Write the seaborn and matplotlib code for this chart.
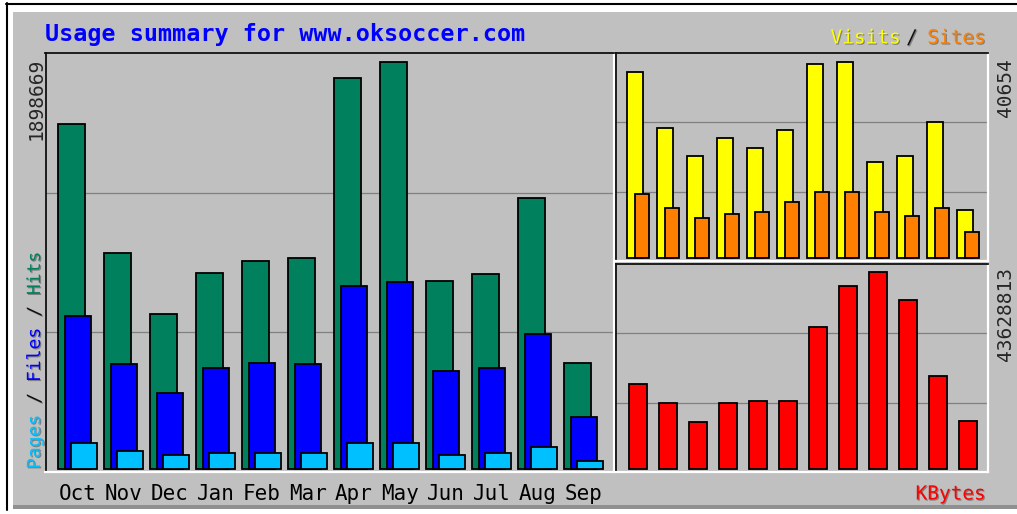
import numpy as np
import matplotlib
matplotlib.use('Agg')
import matplotlib.pyplot as plt
import matplotlib.patheffects as pe
from matplotlib.lines import Line2D
from matplotlib.patches import Rectangle
import seaborn as sns

# --- data ---
months = ['Oct', 'Nov', 'Dec', 'Jan', 'Feb', 'Mar', 'Apr', 'May', 'Jun', 'Jul', 'Aug', 'Sep']
hits = [1608250, 1008300, 722550, 915070, 971010, 982200, 1822700, 1898669, 877780, 907610, 1263300, 495530]
files = [711830, 488070, 355680, 469430, 495530, 488070, 851680, 870320, 458240, 469430, 627920, 243800]
pages = [122600, 85310, 66660, 75980, 75980, 75980, 122600, 122600, 66660, 75980, 103950, 38690]
visits = [38585, 26990, 21190, 24920, 22850, 26575, 40240, 40654, 19880, 21190, 28170, 9940]
sites = [13320, 10420, 8350, 9175, 9590, 11660, 13730, 13730, 9590, 8760, 10420, 5450]
kbytes = [18787000, 14706000, 10358000, 14706000, 15149000, 15149000, 31563000, 40524000,
          43628813, 37418000, 20561000, 10713000]

W, H = 1017, 514
BG = '#c0c0c0'
sns.set_style('white')
plt.rcParams['font.family'] = ['DejaVu Sans Mono', 'DejaVu Sans']

fig = plt.figure(figsize=(W / 100, H / 100), dpi=100, facecolor='white')


def fx(x):
    return x / W


def fy(y):
    return 1 - y / H


def rect(x0, y0, x1, y1, color, z=-10):
    fig.add_artist(Rectangle((fx(x0), fy(y1)), fx(x1) - fx(x0), fy(y0) - fy(y1),
                             transform=fig.transFigure, facecolor=color, edgecolor='none', zorder=z))


def hline(x0, x1, y, color, lw=1.0):
    fig.add_artist(Line2D([fx(x0), fx(x1)], [fy(y), fy(y)], transform=fig.transFigure, color=color, lw=lw))


def vline(x, y0, y1, color, lw=1.0):
    fig.add_artist(Line2D([fx(x), fx(x)], [fy(y0), fy(y1)], transform=fig.transFigure, color=color, lw=lw))


# outer bevelled frame
rect(7, 4, W, 509, BG)
rect(7, 4, W, 12, 'white', z=-9)
rect(7, 4, 13, 509, 'white', z=-9)
rect(13, 505, W, 509, '#909090', z=-9)
hline(6, W, 3.5, 'black', 1.5)
vline(6.5, 3, 510, 'black', 1.5)

shadow = [pe.withSimplePatchShadow(offset=(0.8, -0.8), shadow_rgbFace='#808080', alpha=1.0)]


def panel(x0, y0, x1, y1, xlim, ylim):
    ax = fig.add_axes([fx(x0), fy(y1), (x1 - x0) / W, (y1 - y0) / H])
    ax.set_facecolor(BG)
    ax.set_xlim(*xlim)
    ax.set_ylim(*ylim)
    for s in ('left', 'top'):
        ax.spines[s].set_color('#101010')
        ax.spines[s].set_linewidth(1.3)
    for s in ('right', 'bottom'):
        ax.spines[s].set_color('white')
        ax.spines[s].set_linewidth(1.6)
    lo, hi = ylim
    for f in (1 / 3, 2 / 3):
        ax.axhline(lo + f * (hi - lo), color='#808080', lw=0.9, zorder=1)
    ax.set_yticks([])
    return ax


def bars(ax, xs, vals, color, width):
    sns.barplot(x=xs, y=vals, native_scale=True, orient='v', width=width, color=color,
                saturation=1, edgecolor='black', linewidth=1.3, errorbar=None, ax=ax, zorder=3)


idx = np.arange(len(months))

# left panel: hits / files / pages
m = max(hits)
ax1 = panel(45.5, 53, 614, 472, (-0.702, 11.657), (-0.0074 * m, 1.0221 * m))
bars(ax1, idx - 0.132, hits, '#00805c', 0.576)
bars(ax1, idx, files, '#0000ff', 0.576)
bars(ax1, idx + 0.135, pages, '#00c0ff', 0.565)
ax1.set_xlim(-0.702, 11.657)
ax1.set_xticks(idx, months)
ax1.tick_params(axis='x', length=0, pad=9, labelsize=15, colors='black')
ax1.set_xlabel('')
ax1.set_ylabel('')

# right top: visits / sites
m = max(visits)
ax2 = panel(616, 53, 988, 261, (-0.733, 11.667), (-0.0138 * m, 1.0458 * m))
bars(ax2, idx - 0.1, visits, '#ffff00', 0.555)
bars(ax2, idx + 0.143, sites, '#ff8000', 0.47)
ax2.set_xlim(-0.733, 11.667)
ax2.set_xticks([])
ax2.set_xlabel('')
ax2.set_ylabel('')

# right bottom: kbytes
m = max(kbytes)
ax3 = panel(616, 264, 988, 472, (-0.733, 11.667), (-0.0153 * m, 1.0422 * m))
bars(ax3, idx, kbytes, '#ff0000', 0.61)
ax3.set_xlim(-0.733, 11.667)
ax3.set_xticks([])
ax3.set_xlabel('')
ax3.set_ylabel('')

# titles and legends
fig.text(fx(45), fy(41), 'Usage summary for www.oksoccer.com', color='#0000ff',
         fontsize=16.8, fontweight='bold', ha='left', va='baseline')

fig.text(fx(901), fy(38), 'Visits', color='#ffff00', fontsize=14, ha='right', va='center', path_effects=shadow)
fig.text(fx(912), fy(38), '/', color='#101010', fontsize=14, ha='center', va='center', path_effects=shadow)
fig.text(fx(986), fy(38), 'Sites', color='#ff8000', fontsize=14, ha='right', va='center', path_effects=shadow)
fig.text(fx(986), fy(494), 'KBytes', color='#ff0000', fontsize=14, ha='right', va='center', path_effects=shadow)

fig.text(fx(36), fy(58), f'{max(hits)}', rotation=90, fontsize=14, ha='center', va='top')
fig.text(fx(1005), fy(58), f'{max(visits)}', rotation=90, fontsize=14, ha='center', va='top')
fig.text(fx(1005), fy(267), f'{max(kbytes)}', rotation=90, fontsize=14, ha='center', va='top')

# vertical legend, built up piece by piece (monospace advance)
fs = 13
adv = 0.602 * fs * 100 / 72
parts = [('Pages', '#00c0ff'), (' / ', '#101010'), ('Files', '#0000ff'), (' / ', '#101010'), ('Hits', '#00805c')]
ypos = 469
for txt, col in parts:
    fig.text(fx(35), fy(ypos), txt, rotation=90, color=col, fontsize=fs, ha='center', va='bottom',
             path_effects=shadow)
    ypos -= len(txt) * adv

fig.savefig('out.png', dpi=100, facecolor=fig.get_facecolor())
